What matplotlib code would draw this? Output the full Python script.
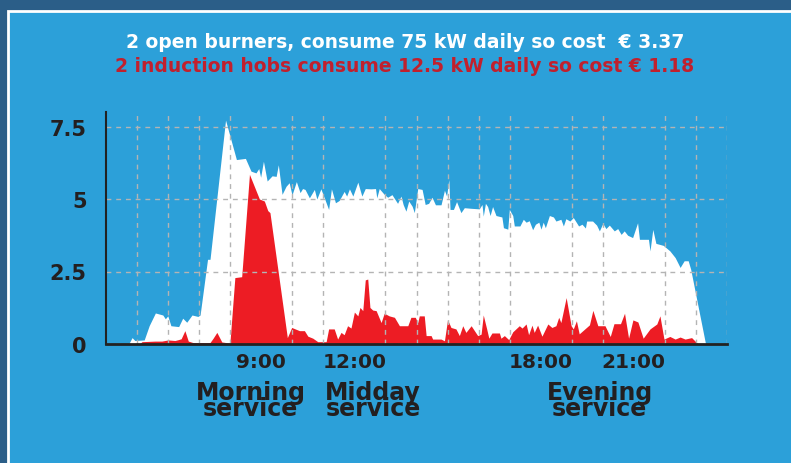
import matplotlib
matplotlib.use("Agg")
import matplotlib.pyplot as plt
from matplotlib.patches import Rectangle

# gas burners (white area), kW over the day (hour of day)
gas_hours = [4.73, 4.84, 4.93, 5.23, 5.39, 5.59, 5.83, 5.91, 5.99, 6.09, 6.34, 6.47, 6.60, 6.77,
             6.96, 7.03, 7.27, 7.35, 7.85, 8.20, 8.49, 8.67, 8.83, 8.92, 8.98, 9.07, 9.19, 9.35,
             9.48, 9.55, 9.67, 9.80, 9.90, 9.99, 10.13, 10.25, 10.33, 10.41, 10.55, 10.71, 10.79,
             10.92, 11.03, 11.17, 11.26, 11.39, 11.51, 11.67, 11.75, 11.84, 11.95, 12.11, 12.24,
             12.35, 12.53, 12.68, 12.72, 12.80, 12.96, 13.07, 13.21, 13.39, 13.50, 13.57, 13.66,
             13.75, 13.86, 13.93, 14.04, 14.18, 14.28, 14.39, 14.50, 14.61, 14.79, 14.90, 14.97,
             15.04, 15.08, 15.19, 15.29, 15.43, 15.54, 15.75, 16.02, 16.11, 16.15, 16.22, 16.29,
             16.37, 16.45, 16.56, 16.75, 16.80, 16.94, 16.99, 17.10, 17.15, 17.33, 17.44, 17.53,
             17.63, 17.74, 17.83, 17.94, 18.01, 18.08, 18.15, 18.28, 18.41, 18.49, 18.65, 18.73,
             18.81, 18.94, 19.05, 19.22, 19.33, 19.44, 19.48, 19.67, 19.80, 19.89, 20.00, 20.10,
             20.21, 20.37, 20.48, 20.59, 20.69, 20.80, 20.96, 21.12, 21.18, 21.47, 21.52, 21.61,
             21.71, 21.95, 22.16, 22.33, 22.49, 22.62, 22.75, 22.83, 23.31]
gas_kw = [0, 0.22, 0.12, 0.14, 0.63, 1.07, 1.0, 0.87, 0.97, 0.63, 0.6, 0.89, 0.75, 1.0,
          0.95, 1.0, 2.92, 2.92, 7.72, 6.36, 6.4, 5.96, 5.9, 6.05, 5.75, 6.3, 5.62, 5.8,
          5.78, 6.18, 5.16, 5.44, 5.56, 5.14, 5.6, 5.22, 5.36, 5.33, 5.04, 5.33, 5.0,
          5.35, 5.04, 4.64, 5.35, 4.87, 4.95, 5.26, 5.1, 5.35, 5.1, 5.58, 5.1,
          5.36, 5.35, 5.36, 5.04, 5.36, 5.16, 5.06, 5.15, 4.85, 5.1, 4.81, 4.58,
          4.93, 4.75, 4.53, 5.36, 5.33, 4.81, 4.85, 5.06, 4.8, 4.8, 5.3, 5.1,
          5.67, 4.64, 4.64, 4.91, 4.53, 4.7, 4.68, 4.66, 4.81, 4.41, 4.85, 4.74,
          4.43, 4.74, 4.43, 4.38, 4.01, 3.96, 4.64, 4.43, 4.07, 4.07, 4.3, 4.2,
          4.25, 3.94, 4.13, 4.2, 3.96, 4.2, 4.01, 4.43, 4.38, 4.24, 4.3, 4.07,
          4.32, 4.24, 4.36, 4.07, 4.13, 4.0, 4.24, 4.24, 4.1, 3.9, 4.16, 3.98,
          4.1, 3.9, 3.98, 3.78, 3.9, 3.75, 3.67, 4.18, 3.61, 3.61, 3.21, 3.95,
          3.47, 3.4, 3.21, 2.98, 2.64, 2.87, 2.87, 2.58, 0]

# induction hobs (red area)
ind_hours = [5.07, 5.16, 5.58, 5.80, 6.00, 6.22, 6.33, 6.42, 6.54, 6.65, 6.80, 7.35, 7.45, 7.57,
             7.73, 7.99, 8.15, 8.37, 8.62, 8.94, 9.10, 9.21, 9.28, 9.84, 9.98, 10.23, 10.39,
             10.50, 10.66, 10.82, 11.09, 11.17, 11.35, 11.46, 11.57, 11.67, 11.78, 11.89, 12.00,
             12.11, 12.18, 12.27, 12.35, 12.43, 12.50, 12.59, 12.70, 12.86, 12.96, 13.12, 13.29,
             13.45, 13.72, 13.82, 13.96, 14.04, 14.09, 14.25, 14.31, 14.47, 14.52, 14.79, 14.90,
             15.00, 15.11, 15.27, 15.38, 15.49, 15.59, 15.76, 15.89, 15.97, 16.08, 16.15, 16.26,
             16.33, 16.43, 16.67, 16.72, 16.83, 16.97, 17.10, 17.31, 17.40, 17.53, 17.61, 17.72,
             17.79, 17.90, 18.04, 18.23, 18.36, 18.49, 18.58, 18.65, 18.82, 18.98, 19.05, 19.15,
             19.24, 19.57, 19.68, 19.84, 20.07, 20.24, 20.36, 20.57, 20.70, 20.83, 20.97, 21.13,
             21.30, 21.52, 21.74, 21.84, 21.97, 22.16, 22.33, 22.49, 22.65, 22.86, 23.02, 23.10]
ind_kw = [0, 0.08, 0.1, 0.1, 0.14, 0.12, 0.15, 0.18, 0.46, 0.1, 0.05, 0.05, 0.2, 0.4,
          0.07, 0.03, 2.29, 2.32, 5.85, 5.0, 4.93, 4.6, 4.53, 0.22, 0.57, 0.46, 0.46,
          0.27, 0.2, 0.08, 0.08, 0.52, 0.52, 0.17, 0.4, 0.32, 0.63, 0.55, 1.1,
          0.97, 1.26, 1.15, 2.21, 2.24, 1.26, 1.17, 1.15, 0.74, 1.06, 0.97, 0.92,
          0.63, 0.63, 0.92, 0.92, 0.74, 0.97, 0.97, 0.29, 0.29, 0.17, 0.17, 0.11,
          0.84, 0.57, 0.52, 0.29, 0.63, 0.4, 0.63, 0.42, 0.29, 0.34, 1.0, 0.52,
          0.2, 0.38, 0.38, 0.2, 0.29, 0.15, 0.42, 0.63, 0.55, 0.69, 0.32, 0.65,
          0.4, 0.65, 0.27, 0.69, 0.57, 0.63, 0.92, 0.74, 1.6, 0.63, 0.52, 0.8,
          0.35, 0.66, 1.16, 0.63, 0.63, 0.26, 0.7, 0.7, 1.06, 0.2, 0.83, 0.76,
          0.2, 0.52, 0.69, 0.97, 0.17, 0.26, 0.17, 0.24, 0.17, 0.22, 0.05, 0]

tick_hours = [9, 12, 18, 21]
tick_labels = ["9:00", "12:00", "18:00", "21:00"]
y_ticks = [0, 2.5, 5, 7.5]
y_labels = ["0", "2.5", "5", "7.5"]
services = [("Morning", 8.65), ("Midday", 12.6), ("Evening", 19.9)]

title_gas = "2 open burners, consume 75 kW daily so cost  \u20ac 3.37"
title_ind = "2 induction hobs consume 12.5 kW daily so cost \u20ac 1.18"

DARK = "#2b5e88"
PANEL = "#2ca0d9"
TEXT = "#231f20"
RED = "#ed1c24"

fig = plt.figure(figsize=(7.91, 4.64), dpi=100, facecolor=DARK)

# light blue panel with a white edge, kept behind the axes
fig.patches.append(Rectangle((8 / 791, -0.1), 1.2, 1.1 - 12.5 / 464, transform=fig.transFigure,
                             facecolor=PANEL, edgecolor="white", lw=2, zorder=-10))

ax = fig.add_axes([106 / 791, 119 / 464, 621 / 791, 232 / 464])
ax.set_zorder(5)
ax.patch.set_alpha(0)

ax.fill_between(gas_hours, gas_kw, 0, color="white", lw=0, zorder=1)
ax.fill_between(ind_hours, ind_kw, 0, color=RED, lw=0, zorder=2)

ax.set_xlim(4, 24)
ax.set_ylim(0, 8)

ax.set_xticks(tick_hours)
ax.set_xticklabels(tick_labels, fontsize=14.5, fontweight="bold", color=TEXT)
ax.set_xticks(range(5, 25), minor=True)
ax.set_yticks(y_ticks)
ax.set_yticklabels(y_labels, fontsize=15, fontweight="bold", color=TEXT)
ax.tick_params(which="both", length=0)
ax.tick_params(axis="x", pad=6)
ax.tick_params(axis="y", pad=14)

# dashed grid drawn over the areas
ax.set_axisbelow(False)
ax.grid(False)
ax.xaxis.grid(True, which="minor", ls=(0, (3.5, 3.5)), color="#b4b4b4", lw=1)
ax.yaxis.grid(True, which="major", ls=(0, (3.5, 3.5)), color="#b4b4b4", lw=1)

for s in ["top", "right"]:
    ax.spines[s].set_visible(False)
ax.spines["left"].set_color("#222222")
ax.spines["left"].set_linewidth(1.5)
ax.spines["bottom"].set_color("#222222")
ax.spines["bottom"].set_linewidth(2)
ax.spines["left"].set_zorder(5)
ax.spines["bottom"].set_zorder(5)

# service names under the time labels (two tight lines, like the original)
for name, h in services:
    ax.text(h, -1.88, name, ha="center", va="baseline", fontsize=17, fontweight="bold",
            color=TEXT, clip_on=False)
    ax.text(h, -2.45, "service", ha="center", va="baseline", fontsize=17, fontweight="bold",
            color=TEXT, clip_on=False)

fig.text(0.512, 1 - 42 / 464, title_gas, ha="center", va="center", fontsize=13.5,
         fontweight="bold", color="white")
fig.text(0.512, 1 - 66 / 464, title_ind, ha="center", va="center", fontsize=13.5,
         fontweight="bold", color="#c1202d")

fig.savefig("out.png", dpi=100, facecolor=DARK)
